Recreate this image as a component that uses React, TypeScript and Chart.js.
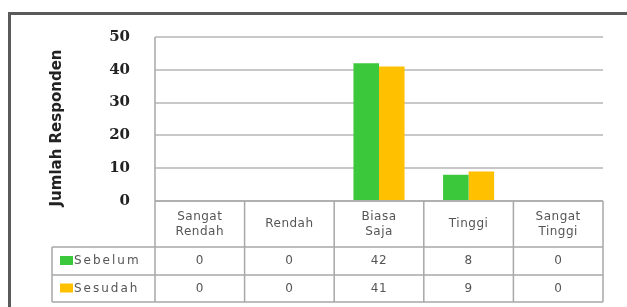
import React, { useEffect, useRef } from "react";
import { Chart, registerables } from "chart.js";

Chart.register(...registerables);

const categories: string[][] = [["Sangat", "Rendah"], ["Rendah"], ["Biasa", "Saja"], ["Tinggi"], ["Sangat", "Tinggi"]];
const seriesNames = ["Sebelum", "Sesudah"];
const sebelum = [0, 0, 42, 8, 0];
const sesudah = [0, 0, 41, 9, 0];
const seriesColors = ["#3BC93B", "#FFC000"];
const yTitle = "Jumlah Responden";
const yMax = 50;
const yStep = 10;

const tablePlugin = {
  id: "tablePlugin",
  afterDraw(chart: any) {
    const ctx = chart.ctx as CanvasRenderingContext2D;
    const area = chart.chartArea;
    const left = area.left;
    const right = area.right;
    const top = area.bottom;
    const colW = (right - left) / categories.length;
    const headerBottom = top + 46;
    const row1Bottom = headerBottom + 28;
    const row2Bottom = row1Bottom + 27;
    const legendLeft = 52;
    ctx.save();
    // frame
    ctx.strokeStyle = "#5a5a5a";
    ctx.lineWidth = 3;
    ctx.beginPath();
    ctx.moveTo(9.5, 320);
    ctx.lineTo(9.5, 13.5);
    ctx.lineTo(640, 13.5);
    ctx.stroke();
    // table lines
    ctx.strokeStyle = "#a8a8a8";
    ctx.lineWidth = 1.5;
    ctx.beginPath();
    ctx.moveTo(left, top);
    ctx.lineTo(right, top);
    [headerBottom, row1Bottom, row2Bottom].forEach((y) => {
      ctx.moveTo(legendLeft, y);
      ctx.lineTo(right, y);
    });
    ctx.moveTo(legendLeft, headerBottom);
    ctx.lineTo(legendLeft, row2Bottom);
    ctx.moveTo(left, area.top);
    ctx.lineTo(left, row2Bottom);
    for (let i = 1; i <= categories.length; i++) {
      const x = left + colW * i;
      ctx.moveTo(x, top);
      ctx.lineTo(x, row2Bottom);
    }
    ctx.stroke();
    // header text
    ctx.fillStyle = "#555";
    ctx.font = "12px 'DejaVu Sans'";
    (ctx as any).letterSpacing = "0.5px";
    ctx.textAlign = "center";
    ctx.textBaseline = "middle";
    categories.forEach((lines, i) => {
      const cx = left + colW * (i + 0.5);
      const cy = (top + headerBottom) / 2;
      const lh = 15;
      lines.forEach((t, j) => {
        ctx.fillText(t, cx, cy + (j - (lines.length - 1) / 2) * lh);
      });
    });
    // values
    const rows = [sebelum, sesudah];
    const rowCenters = [(headerBottom + row1Bottom) / 2, (row1Bottom + row2Bottom) / 2];
    rows.forEach((vals, r) => {
      vals.forEach((v, i) => {
        ctx.fillText(String(v), left + colW * (i + 0.5), rowCenters[r]);
      });
    });
    // legend
    ctx.textAlign = "left";
    (ctx as any).letterSpacing = "2px";
    seriesNames.forEach((name, r) => {
      ctx.fillStyle = seriesColors[r];
      ctx.fillRect(60, rowCenters[r] - 5, 13, 9);
      ctx.fillStyle = "#555";
      ctx.fillText(name, 74, rowCenters[r]);
    });
    (ctx as any).letterSpacing = "0px";
    // y title
    ctx.translate(57, 128);
    ctx.rotate(-Math.PI / 2);
    ctx.fillStyle = "#222";
    ctx.font = "bold 15px 'DejaVu Sans'";
    ctx.textAlign = "center";
    ctx.fillText(yTitle, 0, 0);
    ctx.restore();
  },
};

export default function App() {
  const ref = useRef<HTMLCanvasElement>(null);
  useEffect(() => {
    document.body.style.margin = "0";
    const chart = new Chart(ref.current!, {
      type: "bar",
      data: {
        labels: categories.map((c) => c.join(" ")),
        datasets: [
          { label: seriesNames[0], data: sebelum, backgroundColor: seriesColors[0], categoryPercentage: 0.57, barPercentage: 1 },
          { label: seriesNames[1], data: sesudah, backgroundColor: seriesColors[1], categoryPercentage: 0.57, barPercentage: 1 },
        ],
      },
      options: {
        responsive: false,
        animation: false,
        layout: { padding: { top: 37, right: 24, bottom: 106, left: 0 } },
        plugins: { legend: { display: false }, tooltip: { enabled: false } },
        scales: {
          x: { display: false },
          y: {
            min: 0,
            max: yMax,
            ticks: {
              stepSize: yStep,
              padding: 25,
              color: "#222",
              font: { family: "'DejaVu Serif'", size: 15, weight: "bold" },
            },
            grid: { color: "#c8c8c8", lineWidth: 2, drawTicks: false },
            border: { display: false },
            afterFit: (s: any) => {
              s.width = 155;
            },
          },
        },
      },
      plugins: [tablePlugin],
    });
    return () => chart.destroy();
  }, []);
  return (
    <div style={{ position: "fixed", left: 0, top: 0, width: 627, height: 307, background: "#fff" }}>
      <canvas ref={ref} width={627} height={307} />
    </div>
  );
}
